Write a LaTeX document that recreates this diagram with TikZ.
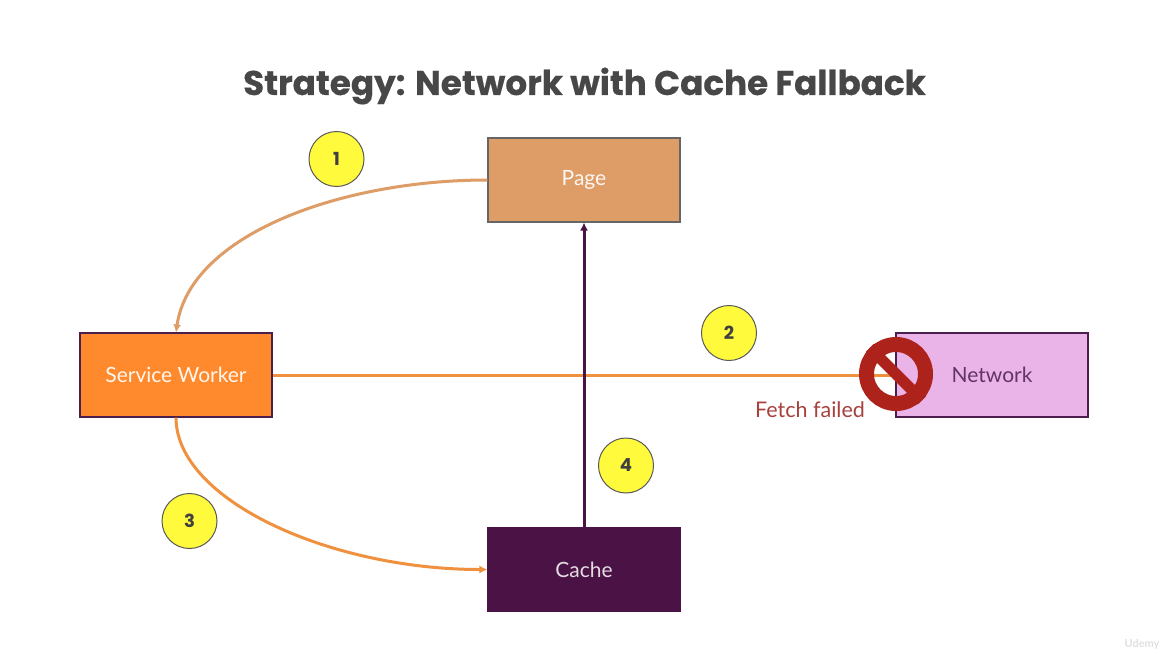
\documentclass[tikz,border=0pt]{standalone}
\usepackage{fontspec}
\setmainfont{Lato}
\newfontfamily\titlefont[FakeBold=0.5]{Poppins Bold}
\newfontfamily\digitfont{Poppins}
\usetikzlibrary{arrows.meta}
\definecolor{pagec}{HTML}{DE9C66}
\definecolor{swc}{HTML}{FF8A2E}
\definecolor{cachec}{HTML}{4A1245}
\definecolor{netc}{HTML}{EBB4E8}
\definecolor{linec}{HTML}{F0913F}
\definecolor{redc}{HTML}{AD231C}
\definecolor{failc}{HTML}{A8403C}
\definecolor{yel}{HTML}{FFFA3C}
\definecolor{edgec}{HTML}{4A1F4E}
\tikzset{
  boxn/.style={draw=#1,line width=1.1pt,minimum width=192pt,minimum height=84pt,inner sep=0pt,font=\fontsize{21}{25}\selectfont},
  badge/.style={circle,draw=black!65,line width=1pt,fill=yel,minimum size=55pt,inner sep=0pt,text=black!75,font=\digitfont\fontsize{18}{20}\selectfont\bfseries},
  conn/.style={line width=3pt,-{Latex[length=8pt,width=8pt]}},
}
\begin{document}
\begin{tikzpicture}[x=1pt,y=-1pt]
\useasboundingbox[fill=white] (0,0) rectangle (1169,654);
\node[font=\titlefont\fontsize{34.2}{40}\selectfont,text=black!72] (title) at (584.5,86) {Strategy: Network with Cache Fallback};
\node[boxn=black!60,fill=pagec,text=white!92!pagec] (page) at (584,180) {\raisebox{-1pt}{Page}};
\node[boxn=edgec,fill=swc,text=white!92!swc] (sw) at (176,375) {Service Worker};
\node[boxn=edgec,fill=netc,text=edgec!85!netc] (net) at (992,375) {Network};
\node[boxn=cachec,fill=cachec,text=white!85!cachec] (cache) at (584,569.5) {Cache};
\draw[conn,draw=pagec] (page.west) .. controls (340,180) and (190,235) .. (sw.north);
\draw[line width=3pt,draw=linec] (sw.east) -- (net.west);
\draw[conn,draw=linec] (sw.south) .. controls (176,500) and (330,569.5) .. (cache.west);
\draw[conn,draw=cachec] (cache.north) -- (page.south);
\node[badge] (b1) at (336.5,159) {1};
\node[badge] (b2) at (729,333) {2};
\node[badge] (b3) at (189.5,521) {3};
\node[badge] (b4) at (626,465.5) {4};
\node[circle,draw=redc,line width=15pt,minimum size=59pt,inner sep=0pt] (ban) at (896,374) {};
\draw[redc,line width=11pt] (ban.north west) -- (ban.south east);
\node[text=failc,font=\fontsize{21.5}{25}\selectfont] (fail) at (810,409.5) {Fetch failed};
\node[text=black!12,font=\fontsize{11}{12}\selectfont\bfseries] (wm) at (1142,644) {Udemy};
\end{tikzpicture}
\end{document}
